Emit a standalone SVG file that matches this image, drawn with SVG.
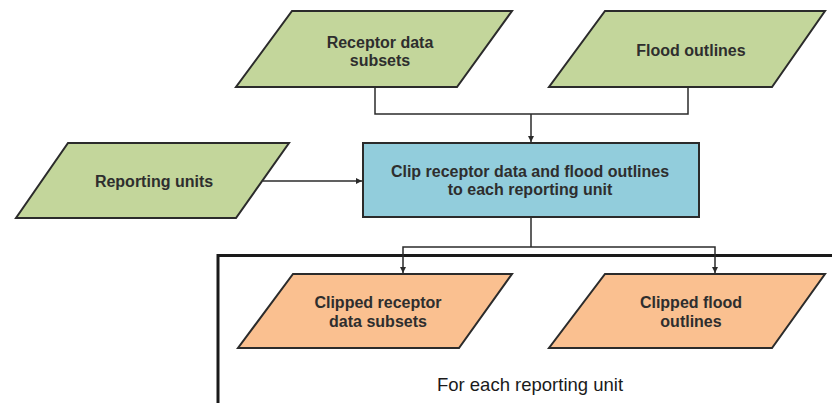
<svg xmlns="http://www.w3.org/2000/svg" width="832" height="403" viewBox="0 0 832 403">
  <defs>
    <style>
      .shape { stroke: #2b2b2b; stroke-width: 2; stroke-linejoin: miter; }
      .green { fill: #c3d69b; }
      .blue { fill: #92cddc; }
      .orange { fill: #fac090; }
      .lbl { font-family: "Liberation Sans", Arial, sans-serif; font-weight: bold; font-size: 16px; fill: #2e2e2e; text-anchor: middle; }
      .cap { font-family: "Liberation Sans", Arial, sans-serif; font-size: 18.5px; fill: #1a1a1a; text-anchor: middle; }
      .conn { fill: none; stroke: #2b2b2b; stroke-width: 1.5; }
      .frame { fill: none; stroke: #1a1a1a; stroke-width: 3; }
    </style>
    <marker id="arrow" viewBox="0 0 10 10" refX="10" refY="5" markerWidth="6" markerHeight="6" markerUnits="userSpaceOnUse" orient="auto">
      <path d="M0,0 L10,5 L0,10 z" fill="#2b2b2b"/>
    </marker>
  </defs>

  <g id="frame">
    <polyline class="frame" points="218,403 218,255.5 832,255.5"/>
  </g>

  <g id="connectors">
    <polyline class="conn" points="375,87 375,114 688,114 688,87"/>
    <line class="conn" x1="531" y1="114" x2="531" y2="142" marker-end="url(#arrow)"/>
    <line class="conn" x1="263" y1="181" x2="362" y2="181" marker-end="url(#arrow)"/>
    <line class="conn" x1="531" y1="217" x2="531" y2="247"/>
    <polyline class="conn" points="531,247 403,247 403,273" marker-end="url(#arrow)"/>
    <polyline class="conn" points="531,247 715,247 715,273" marker-end="url(#arrow)"/>
  </g>

  <g id="receptor-data-subsets">
    <polygon class="shape green" points="292,11 512,11 457,87 236,87"/>
    <text class="lbl" x="380" y="48">Receptor data</text>
    <text class="lbl" x="380" y="66">subsets</text>
  </g>

  <g id="flood-outlines">
    <polygon class="shape green" points="605,11 825,11 772,87 549,87"/>
    <text class="lbl" x="691" y="56">Flood outlines</text>
  </g>

  <g id="reporting-units">
    <polygon class="shape green" points="68,143 289,143 236,218 16,218"/>
    <text class="lbl" x="154" y="187">Reporting units</text>
  </g>

  <g id="clip-process">
    <rect class="shape blue" x="363" y="143" width="336" height="74"/>
    <text class="lbl" x="530" y="177">Clip receptor data and flood outlines</text>
    <text class="lbl" x="530" y="195">to each reporting unit</text>
  </g>

  <g id="clipped-receptor-data-subsets">
    <polygon class="shape orange" points="293,274 512,274 459,348 238,348"/>
    <text class="lbl" x="378" y="308">Clipped receptor</text>
    <text class="lbl" x="378" y="327">data subsets</text>
  </g>

  <g id="clipped-flood-outlines">
    <polygon class="shape orange" points="605,274 825,274 772,348 549,348"/>
    <text class="lbl" x="691" y="308">Clipped flood</text>
    <text class="lbl" x="691" y="327">outlines</text>
  </g>

  <g id="loop-label">
    <text class="cap" x="530" y="391">For each reporting unit</text>
  </g>
</svg>
